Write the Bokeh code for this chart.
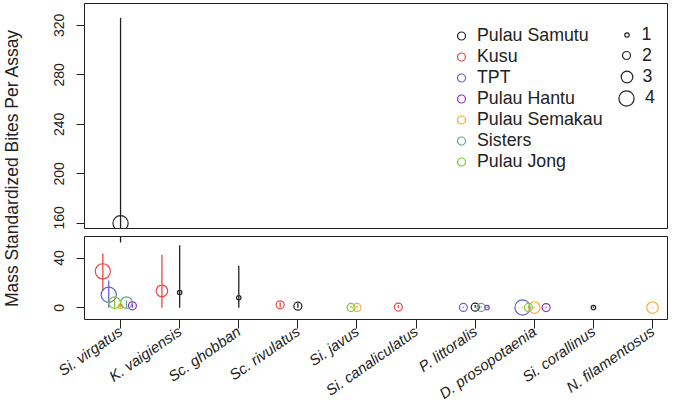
import math
from bokeh.plotting import figure
from bokeh.models import (Range1d, FixedTicker, ColumnDataSource, Legend,
                          LegendItem, Label)
from bokeh.layouts import row, column
from bokeh.embed import file_html
from bokeh.resources import INLINE

# ---------------- data ----------------
species = ["Si. virgatus", "K. vaigiensis", "Sc. ghobban", "Sc. rivulatus",
           "Si. javus", "Si. canaliculatus", "P. littoralis",
           "D. prosopotaenia", "Si. corallinus", "N. filamentosus"]

sites = ["Pulau Samutu", "Kusu", "TPT", "Pulau Hantu", "Pulau Semakau",
         "Sisters", "Pulau Jong"]
site_offsets = [0.0, -0.3, -0.2, 0.2, 0.0, 0.1, -0.1]
site_colors = ["#222222", "#E84840", "#6262CC", "#8A30C8", "#FFAA22",
               "#6BA592", "#7BCB2B"]

samutu_species = ["Si. virgatus", "K. vaigiensis", "Sc. ghobban",
                  "Sc. rivulatus", "P. littoralis", "Si. corallinus"]
samutu_mean = [160, 12.3, 8.1, 1.3, 0.5, 0.2]
samutu_lower = [52.5, 0, 0, 0, 0, 0]
samutu_upper = [326, 50.2, 33.7, 3.6, 2.2, 0.8]
samutu_size = [4, 1, 1, 2, 2, 1]

kusu_species = ["Si. virgatus", "K. vaigiensis", "Sc. rivulatus",
                "Si. canaliculatus"]
kusu_mean = [29.3, 13.6, 2.4, 0.6]
kusu_lower = [13.5, 0, 0.3, 0]
kusu_upper = [43.7, 42.4, 4.5, 2.2]
kusu_size = [4, 3, 2, 2]

tpt_species = ["Si. virgatus", "P. littoralis", "D. prosopotaenia"]
tpt_mean = [10.5, 0.3, 0.2]
tpt_lower = [0, 0, 0]
tpt_upper = [22, 0.8, 0.5]
tpt_size = [4, 2, 4]

hantu_species = ["Si. virgatus", "P. littoralis", "D. prosopotaenia"]
hantu_mean = [1.6, 0.2, 0.2]
hantu_lower = [0, 0, 0]
hantu_upper = [3.5, 0.6, 0.8]
hantu_size = [2, 1, 2]

semakau_species = ["Si. virgatus", "Si. javus", "D. prosopotaenia",
                   "N. filamentosus"]
semakau_mean = [1.0, 0.3, 0.2, 0.2]
semakau_lower = [0, 0, 0, 0]
semakau_upper = [2.5, 1.5, 0.8, 0.6]
semakau_size = [1, 2, 3, 3]

sisters_species = ["Si. virgatus", "P. littoralis"]
sisters_mean = [4.2, 0.3]
sisters_lower = [0, 0]
sisters_upper = [6.0, 1.2]
sisters_size = [3, 2]

jong_species = ["Si. virgatus", "Si. javus", "D. prosopotaenia"]
jong_mean = [4.2, 0.3, 0.3]
jong_lower = [0, 0, 0]
jong_upper = [6.0, 1.5, 1.5]
jong_size = [3, 2, 2]

legend_sizes = [1, 2, 3, 4]

top_ticks = [160, 200, 240, 280, 320]
bottom_ticks = [0, 40]

site_data = [
    (samutu_species, samutu_mean, samutu_lower, samutu_upper, samutu_size),
    (kusu_species, kusu_mean, kusu_lower, kusu_upper, kusu_size),
    (tpt_species, tpt_mean, tpt_lower, tpt_upper, tpt_size),
    (hantu_species, hantu_mean, hantu_lower, hantu_upper, hantu_size),
    (semakau_species, semakau_mean, semakau_lower, semakau_upper, semakau_size),
    (sisters_species, sisters_mean, sisters_lower, sisters_upper, sisters_size),
    (jong_species, jong_mean, jong_lower, jong_upper, jong_size),
]

FONT = "Liberation Sans"
INK = "#222222"


def px(s):
    return 3.6 * s + 0.8


# ---------------- figures ----------------
LAB_W = 38
LEFT = 46
FRAME_W = 584
W = LEFT + FRAME_W
TOTAL_H = 411
x_range = Range1d(0.39, 10.27)


def style_common(p):
    p.grid.visible = False
    p.outline_line_color = INK
    p.outline_line_width = 1
    for ax in p.yaxis:
        ax.axis_line_color = None
        ax.major_tick_line_color = INK
        ax.major_tick_in = 0
        ax.major_tick_out = 8
        ax.minor_tick_line_color = None
        ax.major_label_orientation = "vertical"
        ax.major_label_text_font = FONT
        ax.major_label_text_font_size = "14px"
        ax.major_label_text_color = INK
        ax.major_label_standoff = 12


TOP_H = 229
top = figure(width=W, height=TOP_H, x_range=x_range,
             y_range=Range1d(155, 337.6), toolbar_location=None,
             output_backend="svg", x_axis_location=None,
             min_border_left=LEFT, min_border_right=0, min_border_top=3,
             min_border_bottom=0)
top.yaxis.ticker = FixedTicker(ticks=top_ticks)
style_common(top)

BOT_H = TOTAL_H - TOP_H
bot = figure(width=W, height=BOT_H, x_range=x_range,
             y_range=Range1d(-9.4, 57.3), toolbar_location=None,
             output_backend="svg",
             min_border_left=LEFT, min_border_right=0, min_border_top=7,
             min_border_bottom=BOT_H - 7 - 85)
bot.yaxis.ticker = FixedTicker(ticks=bottom_ticks)
style_common(bot)
xa = bot.xaxis[0]
xa.ticker = FixedTicker(ticks=list(range(1, len(species) + 1)))
xa.major_label_overrides = {i + 1: s for i, s in enumerate(species)}
xa.major_label_orientation = math.radians(35)
xa.major_label_text_font = FONT
xa.major_label_text_font_style = "italic"
xa.major_label_text_font_size = "15px"
xa.major_label_text_color = INK
xa.major_label_standoff = 1
xa.axis_line_color = None
xa.major_tick_line_color = INK
xa.major_tick_in = 0
xa.major_tick_out = 9
xa.minor_tick_line_color = None

legend_renderers = []
for (sp, mean, lo, hi, sz), off, col in zip(site_data, site_offsets, site_colors):
    src = ColumnDataSource(dict(
        x=[species.index(s) + 1 + off for s in sp],
        y=mean, lo=lo, hi=hi, px=[px(v) for v in sz]))
    rr = None
    for p in (top, bot):
        p.segment(x0="x", y0="lo", x1="x", y1="hi", source=src,
                  line_color=col, line_width=1.3)
        r = p.scatter(x="x", y="y", size="px", marker="circle", source=src,
                      fill_color=None, line_color=col, line_width=1.2)
        if p is top:
            rr = r
    legend_renderers.append(rr)

frame_left, frame_bottom = LEFT + LAB_W, TOP_H
ROW = 21.3

# site legend
site_legend = Legend(
    items=[LegendItem(label=s, renderers=[r]) for s, r in zip(sites, legend_renderers)],
    location=(451 - frame_left, frame_bottom - (22.5 + ROW * len(sites))),
    orientation="vertical",
    border_line_color=None, background_fill_alpha=0,
    padding=0, margin=0, spacing=0,
    glyph_width=20, glyph_height=21, label_height=21, label_standoff=6,
    label_text_font=FONT, label_text_font_size="17.8px", label_text_color=INK)
top.add_layout(site_legend)

# size legend (one small legend per key size)
for k, s in enumerate(legend_sizes):
    g = px(s) / 0.4
    h = max(g, 21)
    cx, cy = 626, 34 + ROW * k
    leg = Legend(
        items=[LegendItem(label=str(s), renderers=[legend_renderers[0]])],
        location=(cx - g / 2 - frame_left, frame_bottom - (cy + h / 2)),
        border_line_color=None, background_fill_alpha=0,
        padding=0, margin=0, spacing=0,
        glyph_width=int(round(g)), glyph_height=int(round(g)),
        label_height=21, label_standoff=int(round(642 - (cx + g / 2))),
        label_text_font=FONT, label_text_font_size="17.8px",
        label_text_color=INK)
    top.add_layout(leg)

# y-axis title in its own narrow panel
lab = figure(width=LAB_W, height=TOTAL_H, toolbar_location=None,
             output_backend="svg", x_axis_location=None, y_axis_location=None,
             min_border=0, outline_line_color=None, x_range=Range1d(0, 1),
             y_range=Range1d(0, 1))
lab.grid.visible = False
lab.add_layout(Label(x=11, y=TOTAL_H - 167.5, x_units="screen",
                     y_units="screen",
                     text="Mass Standardized Bites Per Assay",
                     angle=math.pi / 2, text_align="center",
                     text_baseline="middle", text_font=FONT,
                     text_font_size="17.5px", text_color=INK))

layout = row(lab, column(top, bot, spacing=0), spacing=0)

open("out.html", "w").write(file_html(layout, INLINE))
